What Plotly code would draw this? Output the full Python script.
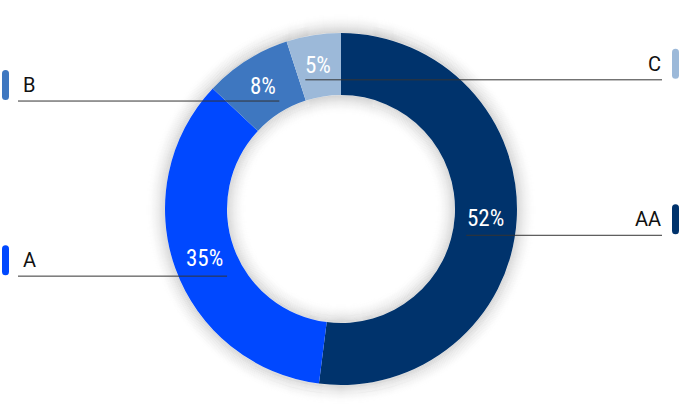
import math
import plotly.graph_objects as go

# data
labels = ["AA", "A", "B", "C"]
values = [52, 35, 8, 5]
colors = ["#00336c", "#0048ff", "#3e77c0", "#9cb9d9"]
sides = ["right", "left", "left", "right"]

W, H = 681, 404
cx, cy = 341, 209
r_out, r_in = 176, 114


def px(x):
    return x / W


def py(y):
    return 1 - y / H


fig = go.Figure(go.Pie(
    labels=labels,
    values=values,
    hole=r_in / r_out,
    sort=False,
    direction="clockwise",
    rotation=0,
    marker=dict(colors=colors, line=dict(width=0)),
    textinfo="none",
    hoverinfo="label+percent",
    showlegend=False,
    domain=dict(x=[px(cx - r_out), px(cx + r_out)],
                y=[py(cy + r_out), py(cy - r_out)]),
))

shapes = []
# soft shadow outside the ring and inside the hole
n = 22
for k in range(1, n):
    a = 0.13 * (1 - k / n) ** 2
    for r in (r_out + k - 0.5, r_in - k + 0.5):
        shapes.append(dict(
            type="circle", xref="paper", yref="paper", layer="below",
            x0=px(cx - r), x1=px(cx + r), y0=py(cy + r), y1=py(cy - r),
            line=dict(color=f"rgba(0,0,0,{a:.4f})", width=1.3),
            fillcolor="rgba(0,0,0,0)",
        ))

annotations = []
total = sum(values)
start = 0
r_mid = (r_out + r_in) / 2
for lab, val, col, side in zip(labels, values, colors, sides):
    mid = (start + val / 2) / total * 2 * math.pi
    start += val
    tx = cx + r_mid * math.sin(mid)
    ty = cy - r_mid * math.cos(mid)
    pct = f"{round(val / total * 100)}%"
    annotations.append(dict(
        x=px(tx), y=py(ty), xref="paper", yref="paper", text=pct,
        showarrow=False, xanchor="center", yanchor="middle",
        font=dict(family="Roboto Condensed, Liberation Sans Narrow, Roboto",
                  size=23, color="white"),
    ))
    # leader line sits just under the percentage
    ly = ty + 17 - 3 * math.cos(mid)
    half = 6.5 * len(pct)
    if side == "left":
        x0, x1 = 18, tx + half + 3
        annotations.append(dict(
            x=px(21), y=py(ly - 16), xref="paper", yref="paper", text=lab,
            showarrow=False, xanchor="left", yanchor="middle",
            font=dict(family="Roboto", size=20, color="#111"),
        ))
        bx0, bx1 = 2, 9
    else:
        x0, x1 = tx - half, 662
        annotations.append(dict(
            x=px(663), y=py(ly - 16), xref="paper", yref="paper", text=lab,
            showarrow=False, xanchor="right", yanchor="middle",
            font=dict(family="Roboto", size=20, color="#111"),
        ))
        bx0, bx1 = 672, 679
    shapes.append(dict(
        type="line", xref="paper", yref="paper",
        x0=px(x0), x1=px(x1), y0=py(ly), y1=py(ly),
        line=dict(color="#333", width=1),
    ))
    # rounded colour marker
    by0, by1 = ly - 31, ly - 1
    rr = 3.5
    path = (f"M {px(bx0)},{py(by0 + rr)} L {px(bx0)},{py(by1 - rr)} "
            f"Q {px(bx0)},{py(by1)} {px(bx0 + rr)},{py(by1)} "
            f"Q {px(bx1)},{py(by1)} {px(bx1)},{py(by1 - rr)} "
            f"L {px(bx1)},{py(by0 + rr)} "
            f"Q {px(bx1)},{py(by0)} {px(bx0 + rr)},{py(by0)} "
            f"Q {px(bx0)},{py(by0)} {px(bx0)},{py(by0 + rr)} Z")
    shapes.append(dict(
        type="path", xref="paper", yref="paper", path=path,
        fillcolor=col, line=dict(width=0),
    ))

fig.update_layout(
    width=W, height=H,
    margin=dict(l=0, r=0, t=0, b=0),
    paper_bgcolor="white", plot_bgcolor="white",
    shapes=shapes, annotations=annotations,
)

fig.write_html("out.html", config={"displayModeBar": False},
               post_script="document.body.style.margin='0';")
